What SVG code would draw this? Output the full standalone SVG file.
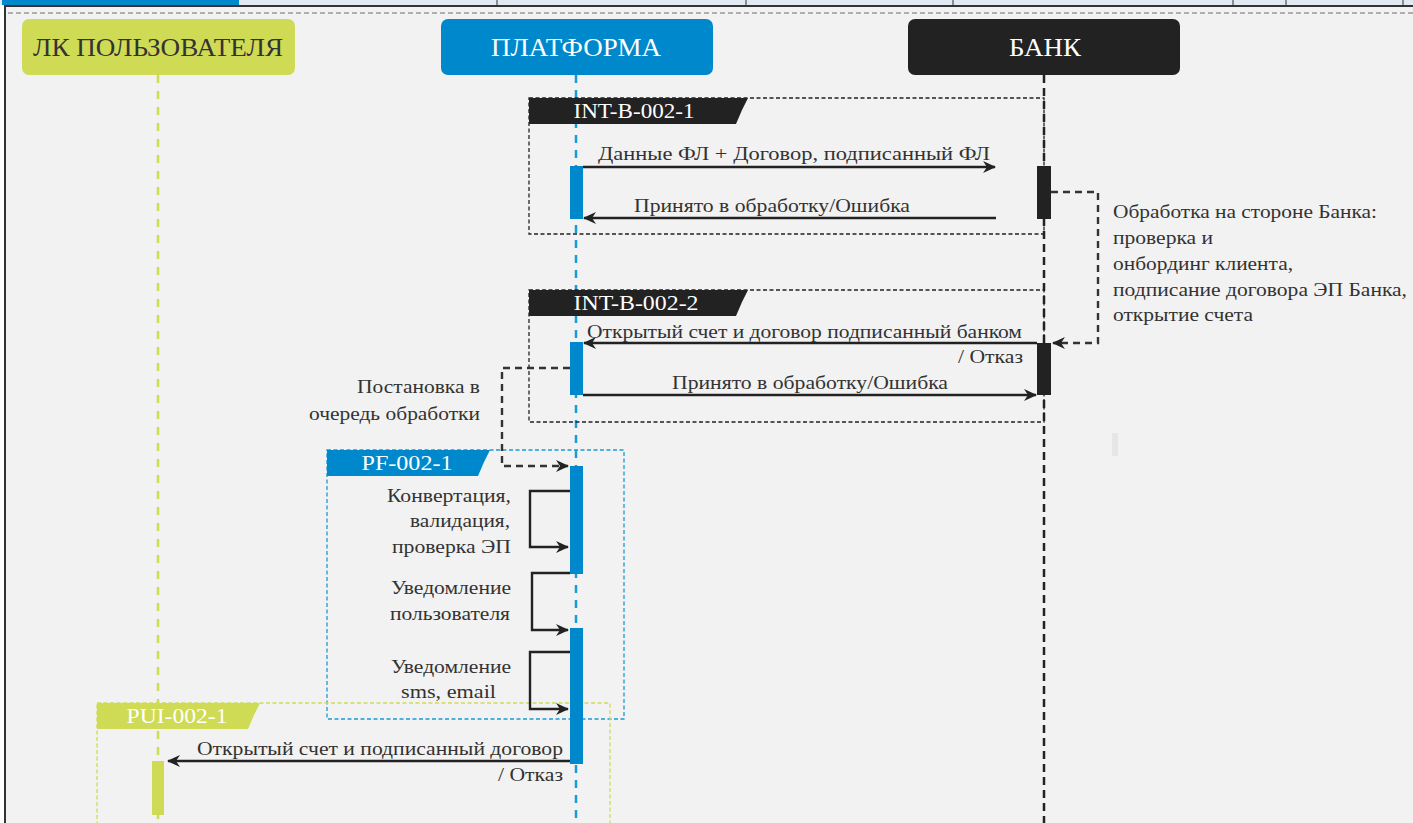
<svg xmlns="http://www.w3.org/2000/svg" width="1413" height="823" viewBox="0 0 1413 823">
<defs>
<style>
text{font-family:'Liberation Serif','Times New Roman',serif}
.t{fill:#333;font-size:19px}
.hd{font-size:25px;text-anchor:middle}
.tab{font-size:21px;fill:#fff;text-anchor:middle}
.msg{stroke:#222;stroke-width:2.4;fill:none}
.dmsg{stroke:#333;stroke-width:2.4;fill:none;stroke-dasharray:7 5}
.fr{fill:none;stroke:#222;stroke-width:1.3;stroke-dasharray:4 2.5}
</style>
<marker id="ah" viewBox="0 0 13 12" refX="12" refY="6" markerWidth="13" markerHeight="12" markerUnits="userSpaceOnUse" orient="auto">
<path d="M0,0 L13,6 L0,12 L4,6 z" fill="#222"/>
</marker>
</defs>
<!-- top strip -->
<rect x="0" y="0" width="1413" height="5" fill="#e3e9f2"/>
<rect x="2" y="0" width="237" height="5" fill="#0088cc"/>
<g stroke="#333" stroke-width="1">
<line x1="497" y1="0" x2="497" y2="5"/><line x1="746" y1="0" x2="746" y2="5"/><line x1="953" y1="0" x2="953" y2="5"/><line x1="1233" y1="0" x2="1233" y2="5"/><line x1="1286" y1="0" x2="1286" y2="5"/><line x1="1403" y1="0" x2="1403" y2="5"/>
</g>
<!-- main panel -->
<rect x="5" y="6" width="1412" height="822" fill="#f2f2f2" stroke="#333" stroke-width="2"/>
<line x1="8" y1="13" x2="1413" y2="13" stroke="#999" stroke-width="1.5" stroke-dasharray="5 3"/>
<rect x="1112" y="433" width="6" height="23" fill="#e6e6e6"/>

<!-- lifelines -->
<g id="lifelines">
<line x1="158" y1="75" x2="158" y2="823" stroke="#cfdb55" stroke-width="2.5" stroke-dasharray="8 8"/>
<line x1="576" y1="75" x2="576" y2="823" stroke="#1a9ad6" stroke-width="2.5" stroke-dasharray="8 7"/>
<line x1="1044" y1="75" x2="1044" y2="823" stroke="#222" stroke-width="2.5" stroke-dasharray="8 5"/>
</g>

<!-- frames -->
<g id="frame-int1">
<rect class="fr" x="529" y="98" width="515" height="136"/>
<path d="M529,98 L748,98 L742,110 L736,124 L529,124 z" fill="#222"/>
<text class="tab" font-family="Liberation Serif, serif" x="634" y="118" textLength="121" lengthAdjust="spacingAndGlyphs">INT-B-002-1</text>
</g>
<g id="frame-int2">
<rect class="fr" x="529" y="290" width="515" height="132"/>
<path d="M529,290 L748,290 L742,302 L736,316 L529,316 z" fill="#222"/>
<text class="tab" font-family="Liberation Serif, serif" x="636" y="310" textLength="125" lengthAdjust="spacingAndGlyphs">INT-B-002-2</text>
</g>
<g id="frame-pf">
<rect x="327" y="450" width="297" height="269" fill="none" stroke="#1a9ad6" stroke-width="1.3" stroke-dasharray="4 2.5"/>
<path d="M327,450 L490,450 L484,462 L478,476 L327,476 z" fill="#0088cc"/>
<text class="tab" font-family="Liberation Serif, serif" x="407" y="470" textLength="91" lengthAdjust="spacingAndGlyphs">PF-002-1</text>
</g>
<g id="frame-pui">
<rect x="97" y="703" width="513" height="130" fill="none" stroke="#cfdb55" stroke-width="1.3" stroke-dasharray="4 2.5"/>
<path d="M97,703 L260,703 L254,715 L248,729 L97,729 z" fill="#cfdb55"/>
<text class="tab" font-family="Liberation Serif, serif" x="177" y="723" textLength="101" lengthAdjust="spacingAndGlyphs">PUI-002-1</text>
</g>

<!-- headers -->
<g id="node-lk">
<rect x="22" y="19" width="273" height="56" rx="7" fill="#cfdb55"/>
<text class="hd" x="158" y="56" fill="#333" textLength="250" lengthAdjust="spacingAndGlyphs">ЛК ПОЛЬЗОВАТЕЛЯ</text>
</g>
<g id="node-platform">
<rect x="441" y="19" width="272" height="56" rx="7" fill="#0088cc"/>
<text class="hd" x="576" y="56" fill="#fff" textLength="170" lengthAdjust="spacingAndGlyphs">ПЛАТФОРМА</text>
</g>
<g id="node-bank">
<rect x="908" y="19" width="272" height="56" rx="7" fill="#222"/>
<text class="hd" x="1045" y="56" fill="#fff" textLength="72" lengthAdjust="spacingAndGlyphs">БАНК</text>
</g>

<!-- activation bars -->
<g id="activations">
<rect x="570" y="166" width="13" height="53" fill="#0088cc"/>
<rect x="1037" y="166" width="14" height="53" fill="#222"/>
<rect x="570" y="342" width="13" height="53" fill="#0088cc"/>
<rect x="1037" y="343" width="14" height="52" fill="#222"/>
<rect x="570" y="466" width="13" height="108" fill="#0088cc"/>
<rect x="570" y="628" width="13" height="136" fill="#0088cc"/>
<rect x="152" y="761" width="12" height="54" fill="#cfdb55"/>
</g>

<!-- connectors -->
<g id="connectors">
<line class="msg" x1="583" y1="167" x2="995" y2="167" marker-end="url(#ah)"/>
<line class="msg" x1="996" y1="218" x2="584" y2="218" marker-end="url(#ah)"/>
<path class="dmsg" d="M1051,192 H1098 V343 H1053" marker-end="url(#ah)"/>
<line class="msg" x1="1037" y1="343" x2="584" y2="343" marker-end="url(#ah)"/>
<line class="msg" x1="583" y1="395" x2="1036" y2="395" marker-end="url(#ah)"/>
<path class="dmsg" d="M570,368 H502 V466 H568" marker-end="url(#ah)"/>
<path class="msg" d="M570,491 H530 V547 H568" marker-end="url(#ah)"/>
<path class="msg" d="M570,573 H532 V630 H568" marker-end="url(#ah)"/>
<path class="msg" d="M570,652 H530 V709 H568" marker-end="url(#ah)"/>
<line class="msg" x1="570" y1="761" x2="168" y2="761" marker-end="url(#ah)"/>
</g>

<!-- labels -->
<g id="labels">
<text class="t" x="598" y="160" textLength="392" lengthAdjust="spacingAndGlyphs">Данные ФЛ + Договор, подписанный ФЛ</text>
<text class="t" x="634" y="212" textLength="276" lengthAdjust="spacingAndGlyphs">Принято в обработку/Ошибка</text>
<text class="t" x="1113" y="218" textLength="264" lengthAdjust="spacingAndGlyphs">Обработка на стороне Банка:</text>
<text class="t" x="1113" y="244" textLength="100" lengthAdjust="spacingAndGlyphs">проверка и</text>
<text class="t" x="1113" y="270" textLength="180" lengthAdjust="spacingAndGlyphs">онбординг клиента,</text>
<text class="t" x="1113" y="296" textLength="294" lengthAdjust="spacingAndGlyphs">подписание договора ЭП Банка,</text>
<text class="t" x="1113" y="321" textLength="140" lengthAdjust="spacingAndGlyphs">открытие счета</text>
<text class="t" x="587" y="338" textLength="435" lengthAdjust="spacingAndGlyphs">Открытый счет и договор подписанный банком</text>
<text class="t" x="958" y="363" textLength="65" lengthAdjust="spacingAndGlyphs">/ Отказ</text>
<text class="t" x="672" y="389" textLength="276" lengthAdjust="spacingAndGlyphs">Принято в обработку/Ошибка</text>
<text class="t" x="357" y="393" textLength="123" lengthAdjust="spacingAndGlyphs">Постановка в</text>
<text class="t" x="309" y="420" textLength="171" lengthAdjust="spacingAndGlyphs">очередь обработки</text>
<text class="t" x="387" y="502" textLength="124" lengthAdjust="spacingAndGlyphs">Конвертация,</text>
<text class="t" x="410" y="527" textLength="100" lengthAdjust="spacingAndGlyphs">валидация,</text>
<text class="t" x="392" y="553" textLength="119" lengthAdjust="spacingAndGlyphs">проверка ЭП</text>
<text class="t" x="391" y="594" textLength="120" lengthAdjust="spacingAndGlyphs">Уведомление</text>
<text class="t" x="390" y="620" textLength="120" lengthAdjust="spacingAndGlyphs">пользователя</text>
<text class="t" x="391" y="673" textLength="120" lengthAdjust="spacingAndGlyphs">Уведомление</text>
<text class="t" x="401" y="698" textLength="95" lengthAdjust="spacingAndGlyphs">sms, email</text>
<text class="t" x="197" y="755" textLength="366" lengthAdjust="spacingAndGlyphs">Открытый счет и подписанный договор</text>
<text class="t" x="498" y="781" textLength="65" lengthAdjust="spacingAndGlyphs">/ Отказ</text>
</g>
</svg>
